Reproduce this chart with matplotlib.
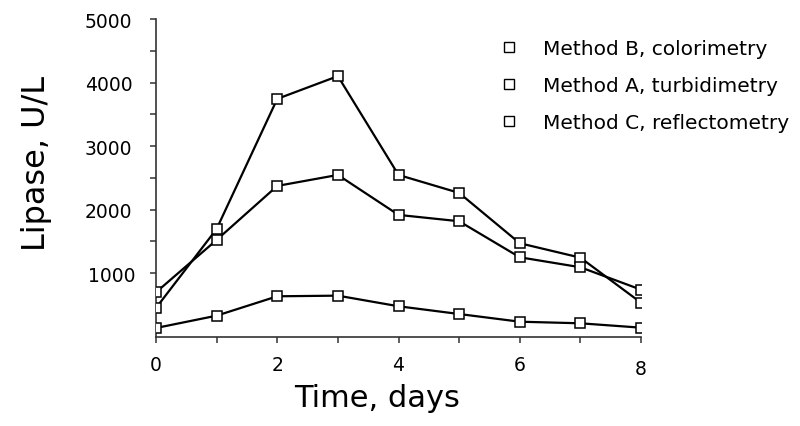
import matplotlib
matplotlib.use("Agg")
import matplotlib.pyplot as plt
import matplotlib.transforms as mtransforms
from matplotlib.lines import Line2D

days = [0, 1, 2, 3, 4, 5, 6, 7, 8]
method_b = [452, 1696, 3743, 4101, 2546, 2263, 1471, 1244, 535]
method_a = [699, 1523, 2373, 2546, 1917, 1817, 1250, 1093, 740]
method_c = [137, 331, 636, 646, 479, 357, 236, 211, 142]
labels = ["Method B, colorimetry", "Method A, turbidimetry", "Method C, reflectometry"]
xticks = [0, 2, 4, 6, 8]
yticks = [1000, 2000, 3000, 4000, 5000]

plt.rcParams['font.family'] = ['DejaVu Sans']

W, H = 800, 427
fig = plt.figure(figsize=(8, 4.27), dpi=100)
ax = fig.add_axes([156 / W, 1 - 337.7 / H, (641 - 156) / W, (337.7 - 20) / H])

for series in (method_b, method_a, method_c):
    ax.plot(days, series, color='black', lw=1.6, marker='s', ms=7.5,
            mfc='white', mec='black', mew=1.1, zorder=3)

ax.set_xlim(0, 8)
ax.set_ylim(0, 5000)
ax.set_xticks(range(0, 9))
ax.set_xticklabels([str(d) if d in xticks else '' for d in range(0, 9)])
ax.set_yticks(yticks)
ax.set_yticks([1500, 2500, 3500, 4500], minor=True)
ax.set_yticklabels([str(v) for v in yticks])

for s in ('top', 'right'):
    ax.spines[s].set_visible(False)
for s in ('left', 'bottom'):
    ax.spines[s].set_linewidth(1.2)
    ax.spines[s].set_color('#333333')
    ax.spines[s].set_clip_on(False)

ax.tick_params(axis='both', which='both', direction='out', length=4, width=1.1,
               color='#333333', labelsize=13.5)
ax.tick_params(axis='x', pad=9)
ax.tick_params(axis='y', pad=13)

# quirks of the original: the "8" sits a little lower, the "1000" a little to the right
lab8 = ax.get_xticklabels()[8]
lab8.set_transform(lab8.get_transform() + mtransforms.ScaledTranslation(0, -4 / 100, fig.dpi_scale_trans))
lab1k = ax.get_yticklabels()[0]
lab1k.set_transform(lab1k.get_transform() + mtransforms.ScaledTranslation(3 / 100, 0, fig.dpi_scale_trans))

ax.set_xlabel('Time, days', fontsize=22)
ax.set_ylabel('Lipase, U/L', fontsize=23)
ax.xaxis.set_label_coords(377 / W, 1 - 384 / H, transform=fig.transFigure)
ax.yaxis.set_label_coords(52 / W, 1 - 164 / H, transform=fig.transFigure)

handles = [Line2D([], [], ls='none', marker='s', ms=7, mfc='white', mec='black', mew=1.0)
           for _ in labels]
ax.legend(handles, labels, loc='upper left', bbox_to_anchor=(500 / W, 1 - 40 / H),
          bbox_transform=fig.transFigure, frameon=False, fontsize=14.5,
          handlelength=0.9, handletextpad=1.25, labelspacing=0.9,
          borderpad=0, borderaxespad=0)

fig.savefig('out.png', dpi=100)
